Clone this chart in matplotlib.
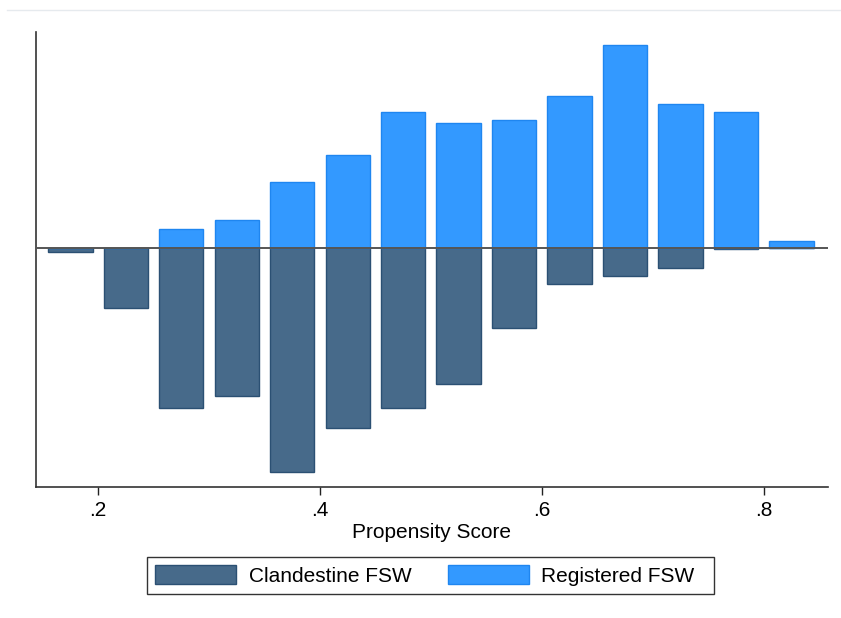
import matplotlib.pyplot as plt
from matplotlib.lines import Line2D
from matplotlib.patches import Patch
import numpy as np

# bin centres of the propensity score histogram
bins = [0.175, 0.225, 0.275, 0.325, 0.375, 0.425, 0.475, 0.525,
        0.575, 0.625, 0.675, 0.725, 0.775, 0.825]
registered = [0, 0, 1.9, 2.8, 6.6, 9.3, 13.6, 12.5, 12.8, 15.2, 20.3, 14.4, 13.6, 0.7]
clandestine = [0.4, 6.0, 16.0, 14.8, 22.4, 18.0, 16.0, 13.6, 8.0, 3.6, 2.8, 2.0, 0.1, 0]
xticks = [0.2, 0.4, 0.6, 0.8]

plt.rcParams['font.family'] = ['Liberation Sans', 'DejaVu Sans']

fig = plt.figure(figsize=(8.41, 6.18), dpi=100)
ax = fig.add_axes([36/841, 1-487/618, (828-36)/841, (487-32)/618])

ax.bar(bins, -np.array(clandestine), width=0.04, color='#476a8a',
       edgecolor='#2b5073', linewidth=1, label='Clandestine FSW')
ax.bar(bins, registered, width=0.04, color='#3399ff',
       edgecolor='#1f86f0', linewidth=1, label='Registered FSW')
ax.axhline(0, color='#555555', linewidth=1.4, zorder=3)

ax.set_xlim(0.144, 0.858)
ax.set_ylim(-23.9, 21.6)
ax.set_xticks(xticks)
ax.set_xticklabels([('%.1f' % t).lstrip('0') for t in xticks], fontsize=15)
ax.set_yticks([])
ax.tick_params(axis='x', direction='out', length=6, width=1, color='#222222', pad=4)
for s in ['top', 'right']:
    ax.spines[s].set_visible(False)
for s in ['left', 'bottom']:
    ax.spines[s].set_color('#333333')
    ax.spines[s].set_linewidth(1.2)
ax.set_xlabel('Propensity Score', fontsize=15, labelpad=2)

handles = [Patch(facecolor='#476a8a', edgecolor='#2b5073'),
           Patch(facecolor='#3399ff', edgecolor='#1f86f0')]
leg = fig.legend(handles, ['Clandestine FSW', 'Registered FSW  '], loc='center',
                 bbox_to_anchor=(430.5/841, 1-575.5/618), ncol=2, fontsize=15,
                 frameon=True, fancybox=False, handlelength=3.9, handleheight=1.05,
                 handletextpad=0.6, columnspacing=1.75, borderpad=0.38)
leg.get_frame().set_edgecolor('black')
leg.get_frame().set_linewidth(1)

fig.add_artist(Line2D([7/841, 1], [1-10/618, 1-10/618], color='#e6eaee', linewidth=1))

fig.savefig('out.png', dpi=100)
